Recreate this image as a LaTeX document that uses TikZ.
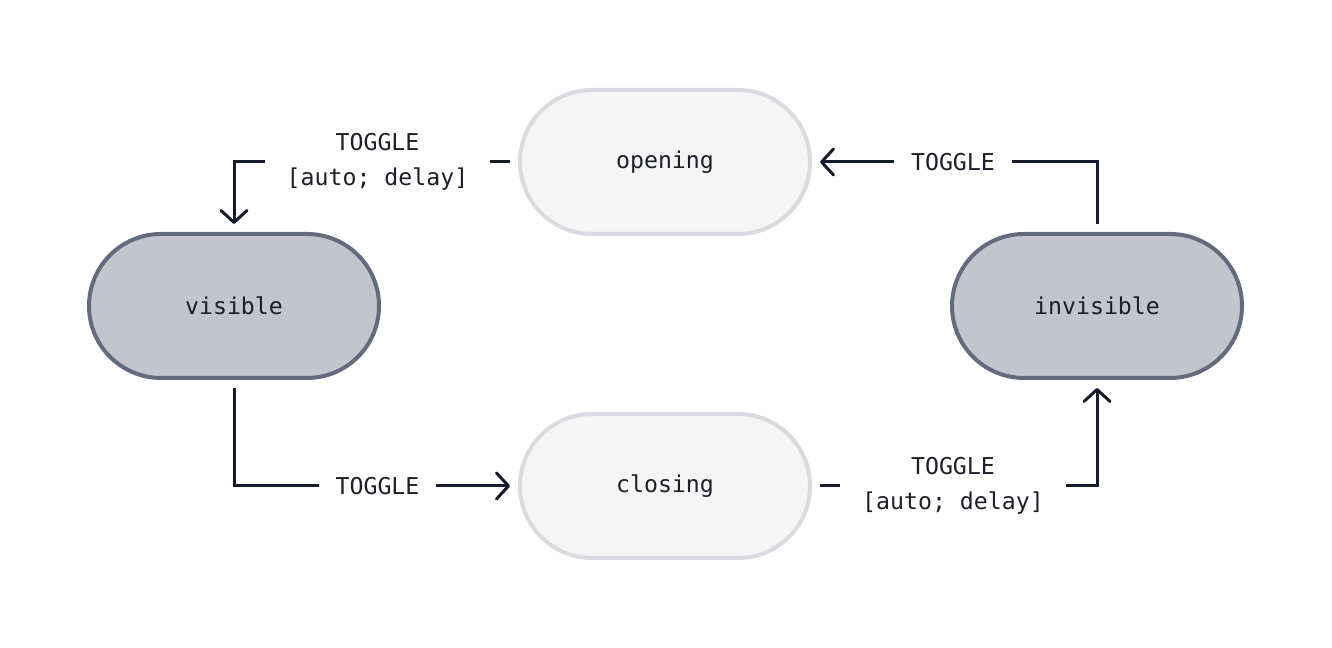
\documentclass[tikz,border=0pt]{standalone}
\usepackage{fontspec}
\setmonofont{DejaVu Sans Mono}
\usetikzlibrary{arrows.meta}

\definecolor{inkline}{HTML}{151B2B}
\definecolor{inktext}{HTML}{1C1F2A}
\definecolor{palefill}{HTML}{F5F5F5}
\definecolor{paleedge}{HTML}{DADAE0}
\definecolor{darkfill}{HTML}{C2C5CC}
\definecolor{darkedge}{HTML}{646B7E}

\begin{document}
\begin{tikzpicture}[
    state/.style = {rectangle, rounded corners = 0.72cm, minimum width = 2.9cm, minimum height = 1.44cm,
                    line width = 0.04cm, outer sep = 0.1cm, text = inktext,
                    font = \ttfamily\fontsize{6.6}{10}\selectfont},
    transient/.style = {state, draw = paleedge, fill = palefill},
    stable/.style = {state, draw = darkedge, fill = darkfill},
    trans/.style = {draw = inkline, line width = 0.03cm,
                    -{Straight Barb[length = 0.12cm, width = 0.26cm, round]}},
    lbl/.style = {fill = white, inner xsep = 0.17cm, inner ysep = 0.05cm, align = center,
                  text = inktext, font = \ttfamily\fontsize{6.6}{10}\selectfont}
  ]
  \useasboundingbox (0,0) rectangle (13.32,6.48);

  \node[transient] at ( 6.65, 4.86) (opening)   {opening};
  \node[transient] at ( 6.65, 1.62) (closing)   {closing};
  \node[stable]    at ( 2.34, 3.42) (visible)   {visible};
  \node[stable]    at (10.97, 3.42) (invisible) {invisible};

  \draw[trans] (opening.west) -| node[lbl, pos = 0.24, inner xsep = 0.22cm] {TOGGLE\\{}[auto; delay]} (visible.north);
  \draw[trans] (invisible.north) |- node[lbl, pos = 0.76] {TOGGLE} (opening.east);
  \draw[trans] (visible.south) |- node[lbl, pos = 0.76] {TOGGLE} (closing.west);
  \draw[trans] (closing.east) -| node[lbl, pos = 0.24, inner xsep = 0.22cm] {TOGGLE\\{}[auto; delay]} (invisible.south);
\end{tikzpicture}
\end{document}
